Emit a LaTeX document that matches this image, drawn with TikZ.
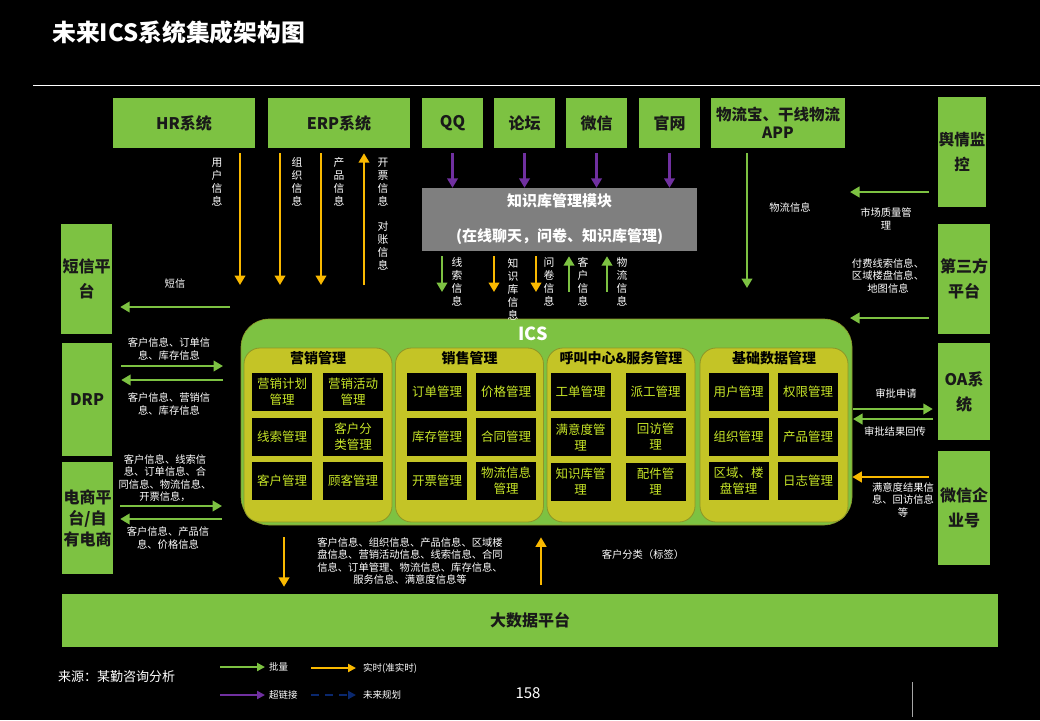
\documentclass[tikz,border=0pt]{standalone}
\usepackage{fontspec}
\setmainfont{Noto Sans CJK SC}
\usetikzlibrary{arrows.meta}

\definecolor{sysgreen}{RGB}{125,194,66}
\definecolor{flowgold}{RGB}{250,185,0}
\definecolor{linkpurple}{RGB}{112,48,160}
\definecolor{plannavy}{RGB}{10,40,110}
\definecolor{kmgray}{RGB}{127,127,127}
\definecolor{deptyellow}{RGB}{196,196,38}
\definecolor{deptedge}{RGB}{140,150,40}
\definecolor{funcyellow}{RGB}{200,230,40}

\begin{document}
\begin{tikzpicture}[x=1pt, y=-1pt,
  sys/.style={fill=sysgreen, text=black!90, align=center, inner sep=0pt,
    font=\bfseries\fontsize{16}{19}\selectfont},
  km/.style={fill=kmgray, text=white, align=center, inner sep=0pt,
    font=\bfseries\fontsize{15}{35}\selectfont},
  dept/.style={fill=deptyellow, draw=deptedge, line width=0.8pt, rounded corners=16pt,
    minimum width=148pt, minimum height=174pt},
  depttitle/.style={text=black, inner sep=0pt, font=\bfseries\fontsize{14}{16}\selectfont},
  func/.style={fill=black, text=funcyellow, minimum width=60pt, minimum height=38pt,
    align=center, inner sep=0pt, font=\fontsize{12.5}{16}\selectfont},
  lbl/.style={text=white, align=center, inner sep=0pt, font=\fontsize{10.3}{12.5}\selectfont},
  vlbl/.style={lbl, font=\fontsize{10.8}{13}\selectfont},
  flow/.style={line width=2.8pt, -{Triangle[length=9.5pt,width=10.5pt]}},
  bulk/.style={flow, draw=sysgreen},
  realtime/.style={flow, draw=flowgold},
  link/.style={flow, draw=linkpurple},
  plan/.style={flow, draw=plannavy, dash pattern=on 8pt off 6pt},
  key/.style={line width=2.2pt, -{Triangle[length=8pt,width=8pt]}},
  keytext/.style={text=white, anchor=west, inner sep=0pt, font=\fontsize{9.5}{11}\selectfont}
]
  \path[use as bounding box, fill=black] (0,0) rectangle (1040,720);

  % title
  \node[text=white, anchor=west, inner sep=0pt, font=\bfseries\fontsize{23.8}{26}\selectfont]
    (title) at (52,32) {未来ICS系统集成架构图};
  \draw[white, line width=0.8pt] (33,85) coordinate (ruleL) -- (1040,85) coordinate (ruleR);

  % source systems, top row
  \node[sys, minimum width=142pt, minimum height=50pt] (hr) at (184,123) {HR系统};
  \node[sys, minimum width=142pt, minimum height=50pt] (erp) at (339,123) {ERP系统};
  \node[sys, minimum width=61pt, minimum height=50pt] (qq) at (452.5,123) {QQ};
  \node[sys, minimum width=61pt, minimum height=50pt] (forum) at (524.5,123) {论坛};
  \node[sys, minimum width=61pt, minimum height=50pt] (wechat) at (596.5,123) {微信};
  \node[sys, minimum width=61pt, minimum height=50pt] (site) at (669.5,123) {官网};
  \node[sys, minimum width=134pt, minimum height=50pt, font=\bfseries\fontsize{15.5}{18}\selectfont]
    (logi) at (778,123) {物流宝、干线物流\\APP};

  % right column
  \node[sys, minimum width=48pt, minimum height=110pt, font=\bfseries\fontsize{15.5}{25}\selectfont]
    (sentiment) at (962,152) {舆情监\\控};
  \node[sys, minimum width=52pt, minimum height=110pt, font=\bfseries\fontsize{16}{25}\selectfont]
    (third) at (964,279) {第三方\\平台};
  \node[sys, minimum width=52pt, minimum height=97pt, font=\bfseries\fontsize{16}{25}\selectfont]
    (oa) at (964,391.5) {OA系\\统};
  \node[sys, minimum width=52pt, minimum height=114pt, font=\bfseries\fontsize{16}{25}\selectfont]
    (wxwork) at (964,508) {微信企\\业号};

  % left column
  \node[sys, minimum width=51pt, minimum height=110pt, font=\bfseries\fontsize{16}{25}\selectfont]
    (sms) at (86.5,279) {短信平\\台};
  \node[sys, minimum width=50pt, minimum height=113pt] (drp) at (87,399.5) {DRP};
  \node[sys, minimum width=51pt, minimum height=112pt, font=\bfseries\fontsize{16}{21}\selectfont]
    (eshop) at (87.5,518) {电商平\\台/自\\有电商};

  % big data
  \node[sys, minimum width=936pt, minimum height=53pt] (bigdata) at (530,620.5) {大数据平台};

  % knowledge base module
  \node[km, minimum width=275pt, minimum height=63pt] (kb) at (559.5,219.5)
    {知识库管理模块\\(在线聊天，问卷、知识库管理)};

  % ICS core
  \node[fill=sysgreen, draw=deptedge, line width=0.6pt, rounded corners=28pt,
    minimum width=611pt, minimum height=206pt] (ics) at (546.5,422) {};
  \node[text=white, inner sep=0pt, font=\bfseries\fontsize{18}{20}\selectfont] (icsT) at (533,334) {ICS};

  \node[dept] (mkt) at (318,435) {};
  \node[dept] (sales) at (469.5,435) {};
  \node[dept] (call) at (621,435) {};
  \node[dept] (base) at (774,435) {};
  \node[depttitle] (mktT) at (318,358) {营销管理};
  \node[depttitle] (salesT) at (469.5,358) {销售管理};
  \node[depttitle] (callT) at (621,358) {呼叫中心\&服务管理};
  \node[depttitle] (baseT) at (774,358) {基础数据管理};

  \node[func] (m1) at (282,392) {营销计划\\管理};
  \node[func] (m2) at (353,392) {营销活动\\管理};
  \node[func] (m3) at (282,437) {线索管理};
  \node[func] (m4) at (353,437) {客户分\\类管理};
  \node[func] (m5) at (282,481) {客户管理};
  \node[func] (m6) at (353,481) {顾客管理};

  \node[func] (s1) at (437,392) {订单管理};
  \node[func] (s2) at (506,392) {价格管理};
  \node[func] (s3) at (437,437) {库存管理};
  \node[func] (s4) at (506,437) {合同管理};
  \node[func] (s5) at (437,481) {开票管理};
  \node[func] (s6) at (506,481) {物流信息\\管理};

  \node[func] (c1) at (580.5,392) {工单管理};
  \node[func] (c2) at (655.5,392) {派工管理};
  \node[func] (c3) at (580.5,437) {满意度管\\理};
  \node[func] (c4) at (655.5,437) {回访管\\理};
  \node[func] (c5) at (580.5,482) {知识库管\\理};
  \node[func] (c6) at (655.5,482) {配件管\\理};

  \node[func] (b1) at (738.5,392) {用户管理};
  \node[func] (b2) at (808,392) {权限管理};
  \node[func] (b3) at (738.5,437) {组织管理};
  \node[func] (b4) at (808,437) {产品管理};
  \node[func] (b5) at (738.5,481) {区域、楼\\盘管理};
  \node[func] (b6) at (808,481) {日志管理};

  % HR / ERP flows
  \coordinate (hrIn) at (240,285);
  \coordinate (orgIn) at (280,285);
  \coordinate (prodIn) at (321,285);
  \coordinate (billOut) at (364,285);
  \draw[realtime, shorten <=5pt] (hr.south -| hrIn) -- (hrIn);
  \draw[realtime, shorten <=5pt] (erp.south -| orgIn) -- (orgIn);
  \draw[realtime, shorten <=5pt] (erp.south -| prodIn) -- (prodIn);
  \draw[realtime, shorten >=5pt] (billOut) -- (erp.south -| billOut);
  \node[vlbl] (hrL) at (217,182) {用\\户\\信\\息};
  \node[vlbl] (orgL) at (297,182) {组\\织\\信\\息};
  \node[vlbl] (prodL) at (339,182) {产\\品\\信\\息};
  \node[vlbl] (billL) at (383,214) {开\\票\\信\\息\\[12pt]对\\账\\信\\息};

  % SMS
  \coordinate (smsOut) at (230,307);
  \draw[bulk, shorten >=8pt] (smsOut) -- (sms.east |- smsOut);
  \node[lbl] (smsL) at (175,284) {短信};

  % hyperlinks into knowledge base
  \draw[link, shorten <=5pt] (qq.south) -- (qq.south |- kb.north);
  \draw[link, shorten <=5pt] (forum.south) -- (forum.south |- kb.north);
  \draw[link, shorten <=5pt] (wechat.south) -- (wechat.south |- kb.north);
  \draw[link, shorten <=5pt] (site.south) -- (site.south |- kb.north);

  % knowledge base to ICS
  \coordinate (clueIn) at (442,292);
  \coordinate (kbIn) at (494,292);
  \coordinate (qnIn) at (536,292);
  \coordinate (custOut) at (569,292);
  \coordinate (logiOut) at (607,292);
  \draw[bulk, shorten <=5pt] (kb.south -| clueIn) -- (clueIn);
  \draw[realtime, shorten <=5pt] (kb.south -| kbIn) -- (kbIn);
  \draw[realtime, shorten <=5pt] (kb.south -| qnIn) -- (qnIn);
  \draw[bulk, shorten >=5pt] (custOut) -- (kb.south -| custOut);
  \draw[bulk, shorten >=5pt] (logiOut) -- (kb.south -| logiOut);
  \node[vlbl] (clueL) at (457,282) {线\\索\\信\\息};
  \node[vlbl] (kbL) at (513,289) {知\\识\\库\\信\\息};
  \node[vlbl] (qnL) at (549,282) {问\\卷\\信\\息};
  \node[vlbl] (custL) at (583,282) {客\\户\\信\\息};
  \node[vlbl] (logiL) at (622,282) {物\\流\\信\\息};

  % logistics app
  \coordinate (logiIn) at (747,288);
  \draw[bulk, shorten <=5pt] (logi.south -| logiIn) -- (logiIn);
  \node[lbl] (logiAppL) at (790,208) {物流信息};

  % right side flows
  \coordinate (qualIn) at (850,192);
  \coordinate (paidIn) at (850,318);
  \coordinate (oaReq) at (853,409);
  \coordinate (oaBack) at (853,419);
  \coordinate (satIn) at (900,477);
  \draw[bulk, shorten <=9pt] (sentiment.west |- qualIn) -- (qualIn);
  \draw[bulk, shorten <=9pt] (third.west |- paidIn) -- (paidIn);
  \draw[bulk, shorten >=5pt] (oaReq) -- (oa.west |- oaReq);
  \draw[bulk, shorten <=5pt] (oa.west |- oaBack) -- (oaBack);
  \draw[realtime, shorten <=9pt] (wxwork.west |- satIn) -- (ics.east |- satIn);
  \node[lbl] (qualL) at (886,219) {市场质量管\\理};
  \node[lbl] (paidL) at (888,276) {付费线索信息、\\区域楼盘信息、\\地图信息};
  \node[lbl] (oaReqL) at (896,394) {审批申请};
  \node[lbl] (oaBackL) at (895,432) {审批结果回传};
  \node[lbl] (satL) at (903,500) {满意度结果信\\息、回访信息\\等};

  % left side flows
  \coordinate (drpOut) at (223,366);
  \coordinate (drpIn) at (223,380);
  \coordinate (shopOut) at (222,506);
  \coordinate (shopIn) at (222,519);
  \draw[bulk, shorten <=9pt] (drp.east |- drpOut) -- (drpOut);
  \draw[bulk, shorten >=9pt] (drpIn) -- (drp.east |- drpIn);
  \draw[bulk, shorten <=7pt] (eshop.east |- shopOut) -- (shopOut);
  \draw[bulk, shorten >=7pt] (shopIn) -- (eshop.east |- shopIn);
  \node[lbl] (drpOutL) at (169,349) {客户信息、订单信\\息、库存信息};
  \node[lbl] (drpInL) at (169,404) {客户信息、营销信\\息、库存信息};
  \node[lbl] (shopOutL) at (165,478) {客户信息、线索信\\息、订单信息、合\\同信息、物流信息、\\开票信息，};
  \node[lbl] (shopInL) at (168,538) {客户信息、产品信\\息、价格信息};

  % ICS and big data
  \coordinate (bdOut) at (284,560);
  \coordinate (tagIn) at (541,560);
  \draw[realtime, shorten <=12pt, shorten >=7pt] (ics.south -| bdOut) -- (bigdata.north -| bdOut);
  \draw[realtime, shorten <=9pt, shorten >=12pt] (bigdata.north -| tagIn) -- (ics.south -| tagIn);
  \node[lbl] (bdOutL) at (410,561) {客户信息、组织信息、产品信息、区域楼\\盘信息、营销活动信息、线索信息、合同\\信息、订单管理、物流信息、库存信息、\\服务信息、满意度信息等};
  \node[lbl] (tagL) at (643,555) {客户分类（标签）};

  % legend
  \node[text=white, anchor=west, inner sep=0pt, font=\fontsize{13}{15}\selectfont]
    (source) at (58,677) {来源：某勤咨询分析};
  \node[keytext] (kBulk) at (269,667) {批量};
  \node[keytext] (kReal) at (363,668) {实时(准实时)};
  \node[keytext] (kLink) at (269,695) {超链接};
  \node[keytext] (kPlan) at (363,695) {未来规划};
  \draw[bulk, key] ([xshift=-49pt]kBulk.west) -- ([xshift=-4pt]kBulk.west);
  \draw[realtime, key] ([xshift=-52pt]kReal.west) -- ([xshift=-7pt]kReal.west);
  \draw[link, key] ([xshift=-49pt]kLink.west) -- ([xshift=-4pt]kLink.west);
  \draw[plan, key] ([xshift=-52pt]kPlan.west) -- ([xshift=-7pt]kPlan.west);
  \node[text=white, inner sep=0pt, font=\fontsize{15}{17}\selectfont] (page) at (528,693) {158};
  \draw[gray!70, line width=1pt] (912,682) coordinate (barTop) -- (912,717) coordinate (barEnd);
\end{tikzpicture}
\end{document}
